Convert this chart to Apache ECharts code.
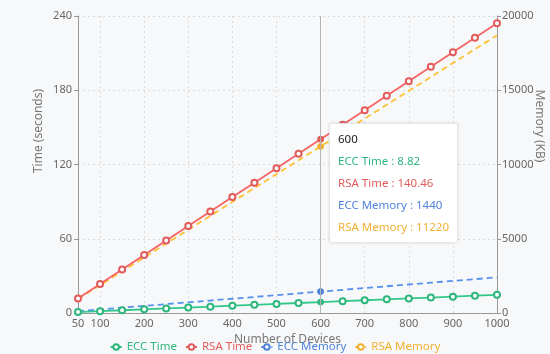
<!DOCTYPE html>
<html>
<head>
<meta charset="utf-8">
<script src="https://cdn.jsdelivr.net/npm/echarts@6/dist/echarts.min.js"></script>
<style>
html,body{margin:0;padding:0;background:#f7f8fa;}
#main{width:550px;height:354px;}
</style>
</head>
<body>
<div id="main"></div>
<script>
var devices = [50,100,150,200,250,300,350,400,450,500,550,600,650,700,750,800,850,900,950,1000];
var eccTime = [0.735,1.47,2.205,2.94,3.675,4.41,5.145,5.88,6.615,7.35,8.085,8.82,9.555,10.29,11.025,11.76,12.495,13.23,13.965,14.7];
var rsaTime = [11.705,23.41,35.115,46.82,58.525,70.23,81.935,93.64,105.345,117.05,128.755,140.46,152.165,163.87,175.575,187.28,198.985,210.69,222.395,234.1];
var eccMemory = [120,240,360,480,600,720,840,960,1080,1200,1320,1440,1560,1680,1800,1920,2040,2160,2280,2400];
var rsaMemory = [935,1870,2805,3740,4675,5610,6545,7480,8415,9350,10285,11220,12155,13090,14025,14960,15895,16830,17765,18700];
var seriesNames = ['ECC Time','RSA Time','ECC Memory','RSA Memory'];
var colors = ['#2eb67d','#e05b5b','#4f84d9','#f0b030'];

function pairs(vals){ return devices.map(function(d,i){ return [d, vals[i]]; }); }
function plain(v){ return String(v); }

var FONT = 'Noto Sans';
var chart = echarts.init(document.getElementById('main'), null, {renderer:'canvas'});

function mkSeries(idx, vals, yIdx, dashed){
  var c = colors[idx];
  return {
    name: seriesNames[idx],
    type: 'line',
    yAxisIndex: yIdx,
    data: pairs(vals),
    symbol: 'emptyCircle',
    symbolSize: 6,
    showSymbol: !dashed,
    lineStyle: {color: c, width: 1.8, type: dashed ? [6,4] : 'solid'},
    itemStyle: {color: c, borderWidth: 1.5},
    emphasis: {scale: false, itemStyle: {color: c, borderColor: c, borderWidth: 1}},
    z: dashed ? 2 : 3
  };
}

var option = {
  animation: false,
  backgroundColor: '#f7f8fa',
  color: colors,
  textStyle: {fontFamily: FONT},
  grid: {left: 78, right: 53, top: 16, bottom: 41},
  tooltip: {
    trigger: 'axis',
    alwaysShowContent: true,
    transitionDuration: 0,
    position: [329, 123],
    backgroundColor: '#ffffff',
    borderColor: '#e6e6e6',
    borderWidth: 1,
    padding: [4, 8],
    extraCssText: 'box-shadow:0 0 3px rgba(0,0,0,0.12);border-radius:2px;',
    axisPointer: {type: 'line', lineStyle: {color: '#b5b5b5', width: 1, type: 'solid'}},
    formatter: function(params){
      var s = '<div style="font-family:Noto Sans;font-size:11.5px;line-height:22px;color:#222">' + params[0].value[0] + '</div>';
      params.forEach(function(p){
        s += '<div style="font-family:Noto Sans;font-size:11.5px;line-height:22px;color:' + colors[p.seriesIndex] + '">' + p.seriesName + ' : ' + p.value[1] + '</div>';
      });
      return s;
    }
  },
  legend: {
    data: seriesNames,
    left: 'center',
    top: 336,
    itemWidth: 11,
    itemHeight: 7,
    itemGap: 8,
    formatter: function(n){ return '{' + 's' + seriesNames.indexOf(n) + '|' + n + '}'; },
    textStyle: {
      fontFamily: FONT, fontSize: 11.5,
      rich: {
        s0: {color: colors[0], fontFamily: FONT, fontSize: 11.5},
        s1: {color: colors[1], fontFamily: FONT, fontSize: 11.5},
        s2: {color: colors[2], fontFamily: FONT, fontSize: 11.5},
        s3: {color: colors[3], fontFamily: FONT, fontSize: 11.5}
      }
    }
  },
  xAxis: {
    type: 'value',
    min: 50,
    max: 1000,
    splitNumber: 10,
    name: 'Number of Devices',
    nameLocation: 'middle',
    nameGap: 12,
    nameTextStyle: {color: '#777', fontSize: 12, fontFamily: FONT},
    axisLine: {show: true, lineStyle: {color: '#999'}},
    axisTick: {show: false},
    axisLabel: {color: '#666', fontSize: 11, margin: 5, fontFamily: FONT, formatter: plain},
    splitLine: {show: true, lineStyle: {color: '#dcdcdc', type: [2,3]}}
  },
  yAxis: [
    {
      type: 'value',
      min: 0, max: 240, interval: 60,
      axisLine: {show: true, lineStyle: {color: '#999'}},
      axisTick: {show: true, length: 4, lineStyle: {color: '#999'}},
      axisLabel: {color: '#666', fontSize: 11, margin: 6, fontFamily: FONT, formatter: plain},
      splitLine: {show: true, lineStyle: {color: '#dcdcdc', type: [2,3]}}
    },
    {
      type: 'value',
      min: 0, max: 20000, interval: 5000,
      axisLine: {show: true, lineStyle: {color: '#999'}},
      axisTick: {show: true, length: 4, lineStyle: {color: '#999'}},
      axisLabel: {color: '#666', fontSize: 11, margin: 5, fontFamily: FONT, formatter: plain},
      splitLine: {show: false}
    }
  ],
  graphic: [
    {type: 'text', x: 39, y: 131, rotation: Math.PI/2,
     style: {text: 'Time (seconds)', align: 'center', verticalAlign: 'middle', fill: '#777', font: '12px "Noto Sans"'}},
    {type: 'text', x: 539, y: 126, rotation: -Math.PI/2,
     style: {text: 'Memory (KB)', align: 'center', verticalAlign: 'middle', fill: '#777', font: '12px "Noto Sans"'}}
  ],
  series: [
    mkSeries(0, eccTime, 0, false),
    mkSeries(1, rsaTime, 0, false),
    mkSeries(2, eccMemory, 1, true),
    mkSeries(3, rsaMemory, 1, true)
  ]
};
chart.setOption(option);
chart.dispatchAction({type: 'showTip', seriesIndex: 0, dataIndex: 11});
</script>
</body>
</html>
